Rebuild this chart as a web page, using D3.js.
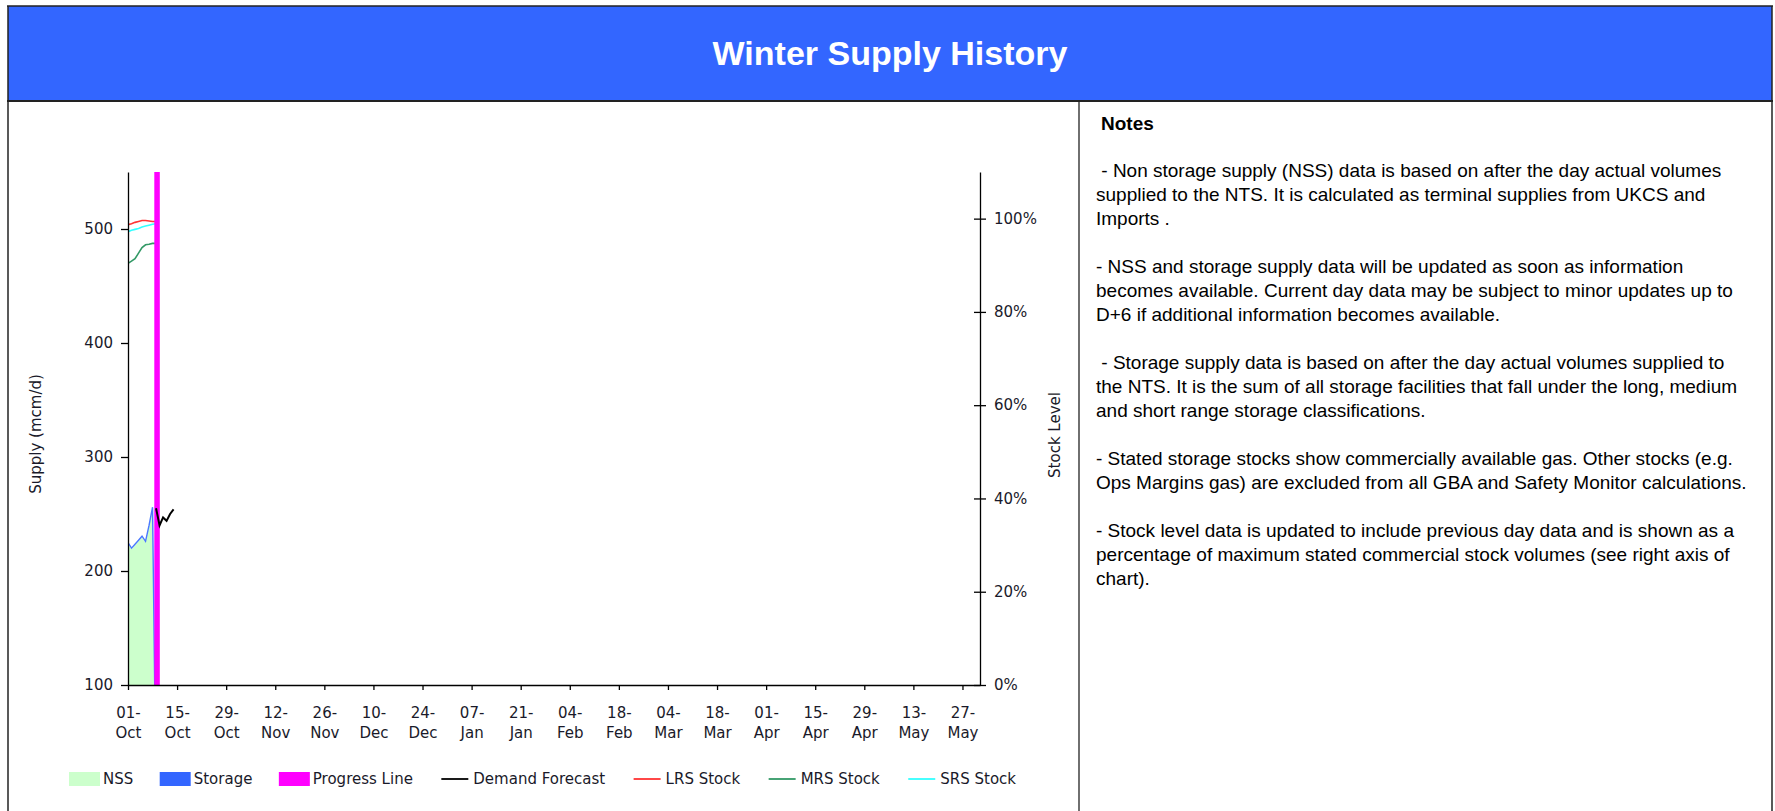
<!DOCTYPE html>
<html>
<head>
<meta charset="utf-8">
<script src="https://d3js.org/d3.v7.min.js"></script>
<style>
  html, body { margin: 0; padding: 0; background: #fff; }
  svg { display: block; }
  .axis text, .legend text { font-family: "DejaVu Sans", Tahoma, sans-serif; font-size: 15px; fill: #1a1a2a; }
  .axis path, .axis line { stroke: #000; stroke-width: 1.3; }
  .notes text { font-family: "Liberation Sans", Arial, sans-serif; font-size: 19px; fill: #000; white-space: pre; }
</style>
</head>
<body>
<svg id="chart" width="1775" height="811"></svg>
<script>
// daily supply (mcm/d), Oct 1 .. Oct 9 (Oct 9 not yet reported)
const supplyDates = ["2022-10-01", "2022-10-02", "2022-10-03", "2022-10-04", "2022-10-05",
                     "2022-10-06", "2022-10-07", "2022-10-08", "2022-10-09"];
const nssValues = [224, 219, 222.5, 226, 229.5, 225, 239, 255, 0];
const storageValues = [1, 1, 1, 1, 1, 1, 1, 1, 0];

// stock level (% of max stated commercial stock)
const lrsStock = [98.7, 98.9, 99.2, 99.4, 99.6, 99.6, 99.5, 99.4, 99.4];
const mrsStock = [90.4, 90.9, 91.4, 92.6, 93.8, 94.4, 94.5, 94.7, 94.7];
const srsStock = [97.2, 97.5, 97.7, 97.9, 98.2, 98.4, 98.6, 98.8, 98.9];

// demand forecast (mcm/d)
const demandDates = ["2022-10-09", "2022-10-10", "2022-10-11", "2022-10-12", "2022-10-13", "2022-10-14"];
const demandValues = [255, 240, 247, 244, 250, 254];

const progressDate = "2022-10-09";

const supplyTicks = [100, 200, 300, 400, 500];
const stockTicks = [0, 20, 40, 60, 80, 100];
const monthNames = ["Jan", "Feb", "Mar", "Apr", "May", "Jun", "Jul", "Aug", "Sep", "Oct", "Nov", "Dec"];

const legendItems = [
  { name: "NSS", kind: "box", color: "#ccffcc" },
  { name: "Storage", kind: "box", color: "#3366ff" },
  { name: "Progress Line", kind: "box", color: "#ff00ff" },
  { name: "Demand Forecast", kind: "line", color: "#000000" },
  { name: "LRS Stock", kind: "line", color: "#ff3333" },
  { name: "MRS Stock", kind: "line", color: "#339966" },
  { name: "SRS Stock", kind: "line", color: "#33ffff" }
];

const noteLines = [
  " - Non storage supply (NSS) data is based on after the day actual volumes",
  "supplied to the NTS. It is calculated as terminal supplies from UKCS and",
  "Imports .",
  "",
  "- NSS and storage supply data will be updated as soon as information",
  "becomes available. Current day data may be subject to minor updates up to",
  "D+6 if additional information becomes available.",
  "",
  " - Storage supply data is based on after the day actual volumes supplied to",
  "the NTS. It is the sum of all storage facilities that fall under the long, medium",
  "and short range storage classifications.",
  "",
  "- Stated storage stocks show commercially available gas. Other stocks (e.g.",
  "Ops Margins gas) are excluded from all GBA and Safety Monitor calculations.",
  "",
  "- Stock level data is updated to include previous day data and is shown as a",
  "percentage of maximum stated commercial stock volumes (see right axis of",
  "chart)."
];

const W = 1775, H = 811;
const svg = d3.select("#chart");
const parse = d3.utcParse("%Y-%m-%d");

// frame + header
const panelLeft = 8, panelRight = 1772, headerTop = 6, headerBottom = 101, divider = 1079;
svg.append("rect")
  .attr("x", panelLeft).attr("y", headerTop)
  .attr("width", panelRight - panelLeft).attr("height", headerBottom - headerTop)
  .attr("fill", "#3366ff");
svg.append("line").attr("x1", panelLeft - 1).attr("x2", panelRight + 1)
  .attr("y1", headerTop).attr("y2", headerTop).attr("stroke", "#222").attr("stroke-width", 1.5);
svg.append("line").attr("x1", panelLeft - 1).attr("x2", panelRight + 1)
  .attr("y1", headerBottom).attr("y2", headerBottom).attr("stroke", "#222").attr("stroke-width", 2);
[panelLeft, panelRight].forEach(x => {
  svg.append("line").attr("x1", x).attr("x2", x).attr("y1", headerTop).attr("y2", H)
    .attr("stroke", "#222").attr("stroke-width", 1.5);
});
svg.append("line").attr("x1", divider).attr("x2", divider).attr("y1", headerBottom).attr("y2", H)
  .attr("stroke", "#222").attr("stroke-width", 1.3);

svg.append("text")
  .attr("x", (panelLeft + panelRight) / 2).attr("y", 65)
  .attr("text-anchor", "middle")
  .style("font-family", "'Liberation Sans', Arial, sans-serif")
  .style("font-weight", "bold").style("font-size", "34px")
  .attr("fill", "#fff")
  .text("Winter Supply History");

// chart
const plot = { left: 128, right: 980, top: 172, bottom: 685 };

const x = d3.scaleUtc()
  .domain([parse("2022-10-01"), parse("2023-06-01")])
  .range([plot.left, plot.right]);
const ySupply = d3.scaleLinear().domain([100, 550]).range([plot.bottom, plot.top]);
const yStock = d3.scaleLinear().domain([0, 110]).range([plot.bottom, plot.top]);

svg.append("clipPath").attr("id", "plotClip")
  .append("rect")
  .attr("x", plot.left).attr("y", plot.top)
  .attr("width", plot.right - plot.left).attr("height", plot.bottom - plot.top);

const supply = supplyDates.map((d, i) => ({
  date: parse(d), nss: nssValues[i], storage: storageValues[i],
  lrs: lrsStock[i], mrs: mrsStock[i], srs: srsStock[i]
}));
const demand = demandDates.map((d, i) => ({ date: parse(d), value: demandValues[i] }));

const marks = svg.append("g").attr("clip-path", "url(#plotClip)");

// NSS area with storage stacked on top
marks.append("path")
  .datum(supply)
  .attr("fill", "#ccffcc")
  .attr("d", d3.area()
    .x(d => x(d.date))
    .y0(ySupply(100) + 200)
    .y1(d => ySupply(d.nss)));
marks.append("path")
  .datum(supply)
  .attr("fill", "none").attr("stroke", "#4a78ff").attr("stroke-width", 1.4)
  .attr("d", d3.line().x(d => x(d.date)).y(d => ySupply(d.nss + d.storage)));

// stock lines (right axis)
[["lrs", "#ff3333"], ["srs", "#33ffff"], ["mrs", "#339966"]].forEach(([key, color]) => {
  marks.append("path")
    .datum(supply)
    .attr("fill", "none")
    .attr("stroke", color)
    .attr("stroke-width", 1.6)
    .attr("d", d3.line().x(d => x(d.date)).y(d => yStock(d[key])));
});

// progress line
marks.append("line")
  .attr("x1", x(parse(progressDate)) + 1).attr("x2", x(parse(progressDate)) + 1)
  .attr("y1", plot.top).attr("y2", plot.bottom)
  .attr("stroke", "#ff00ff").attr("stroke-width", 5.5);

// demand forecast
marks.append("path")
  .datum(demand)
  .attr("fill", "none").attr("stroke", "#000").attr("stroke-width", 2)
  .attr("d", d3.line().x(d => x(d.date)).y(d => ySupply(d.value)));

// axes
svg.append("g")
  .attr("class", "axis")
  .attr("transform", `translate(${plot.left},0)`)
  .call(d3.axisLeft(ySupply).tickValues(supplyTicks).tickSize(7).tickSizeOuter(0).tickPadding(8));

svg.append("g")
  .attr("class", "axis")
  .attr("transform", `translate(${plot.right},0)`)
  .call(d3.axisRight(yStock).tickValues(stockTicks).tickSize(6).tickSizeOuter(0).tickPadding(8)
    .tickFormat(d => d + "%"))
  .call(g => g.selectAll(".tick line").attr("x1", -6));

const xTicks = d3.utcDay.range(x.domain()[0], x.domain()[1], 14);
const xAxis = svg.append("g")
  .attr("class", "axis")
  .attr("transform", `translate(0,${plot.bottom})`)
  .call(d3.axisBottom(x).tickValues(xTicks).tickSize(5).tickSizeOuter(0).tickFormat(""));
xAxis.selectAll(".tick text").remove();
xAxis.selectAll(".tick").each(function (d) {
  const t = d3.select(this).append("text").attr("text-anchor", "middle");
  t.append("tspan").attr("x", 0).attr("y", 33).text(d3.utcFormat("%d")(d) + "-");
  t.append("tspan").attr("x", 0).attr("y", 53).text(monthNames[d.getUTCMonth()]);
});

// axis titles
const titles = svg.append("g").attr("class", "legend");
titles.append("text")
  .attr("transform", "translate(41,434) rotate(-90)")
  .attr("text-anchor", "middle")
  .text("Supply (mcm/d)");
titles.append("text")
  .attr("transform", "translate(1060,435) rotate(-90)")
  .attr("text-anchor", "middle")
  .text("Stock Level");

// legend, spread between the first swatch and the last label
const legend = svg.append("g").attr("class", "legend");
const legendY = 779, swatchW = 31, swatchGap = 3, legendStart = 69, legendEnd = 1016;
const items = legend.selectAll("g").data(legendItems).join("g");
items.append("text")
  .attr("y", legendY + 5)
  .text(d => d.name);
const widths = [];
items.select("text").each(function () { widths.push(this.getComputedTextLength()); });
const content = d3.sum(widths) + legendItems.length * (swatchW + swatchGap);
const gap = (legendEnd - legendStart - content) / (legendItems.length - 1);
let cursor = legendStart;
items.each(function (d, i) {
  const g = d3.select(this);
  if (d.kind === "box") {
    g.append("rect").attr("x", cursor).attr("y", legendY - 7)
      .attr("width", swatchW).attr("height", 14).attr("fill", d.color);
  } else {
    g.append("line").attr("x1", cursor + 2).attr("x2", cursor + swatchW - 2)
      .attr("y1", legendY).attr("y2", legendY)
      .attr("stroke", d.color).attr("stroke-width", 1.8);
  }
  g.select("text").attr("x", cursor + swatchW + swatchGap);
  cursor += swatchW + swatchGap + widths[i] + gap;
});

// notes panel
const notes = svg.append("g").attr("class", "notes");
notes.append("text")
  .attr("x", 1101).attr("y", 130)
  .style("font-weight", "bold")
  .text("Notes");
notes.selectAll("text.line")
  .data(noteLines)
  .join("text")
  .attr("class", "line")
  .attr("x", 1096)
  .attr("y", (d, i) => 177 + i * 24)
  .text(d => d);
</script>
</body>
</html>
